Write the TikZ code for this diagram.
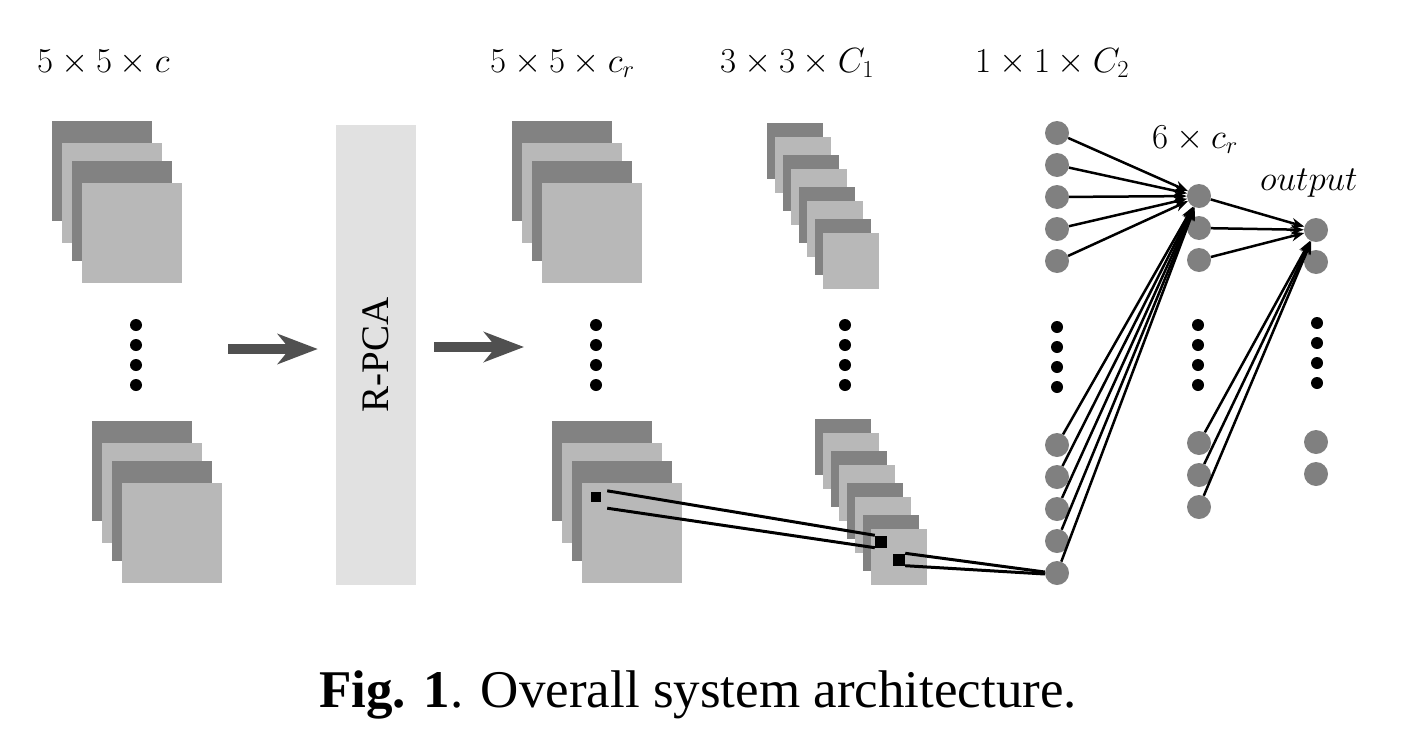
\RequirePackage{fix-cm}
\documentclass[tikz,border=0pt]{standalone}
\usepackage{fontspec}
\newfontfamily\timesfont{Liberation Serif}
\usetikzlibrary{arrows.meta,calc}

\definecolor{mapdark}{HTML}{828282}
\definecolor{maplight}{HTML}{B8B8B8}
\definecolor{unitgray}{HTML}{808080}
\definecolor{boxgray}{HTML}{E1E1E1}
\definecolor{arrowgray}{HTML}{505050}

\tikzset{
  unitnode/.style={circle, fill=unitgray, minimum size=24pt, inner sep=0pt},
  patchnode/.style={fill=black, minimum size=#1, inner sep=0pt},
  mapdim/.style={anchor=base west, inner sep=0pt, font=\fontsize{35}{42}\selectfont},
  conn/.style={-{Stealth[length=13pt,width=10pt]}, line width=2.5pt},
  patchline/.style={line width=3pt},
  bigarrow/.style={-{Stealth[length=40pt,width=30pt,inset=12pt]}, line width=10pt, arrowgray},
}

\begin{document}
\begin{tikzpicture}[x=1pt,y=-1pt]
\useasboundingbox (0,0) rectangle (1405,731);

% 5x5 maps
\foreach \x/\y in {52/121, 92/421, 512/121, 552/421}{
  \foreach \dx/\dy/\c in {0/0/mapdark, 10/22/maplight, 20/40/mapdark, 30/62/maplight}
    \fill[\c] (\x+\dx,\y+\dy) rectangle ++(100,100);
}
% 3x3 maps
\foreach \x/\y in {767/123, 815/419}{
  \foreach \dx/\dy/\c in {0/0/mapdark, 8/14/maplight, 16/32/mapdark, 24/46/maplight,
                          32/64/mapdark, 40/78/maplight, 48/96/mapdark, 56/110/maplight}
    \fill[\c] (\x+\dx,\y+\dy) rectangle ++(56,56);
}
% vertical dots
\foreach \x/\y in {136/325, 596/325, 845/325, 1057/327, 1198/325, 1317/323}{
  \foreach \k in {0,...,3}
    \fill (\x,\y+20*\k) circle (6);
}

% R-PCA
\node[fill=boxgray, minimum width=80pt, minimum height=460pt, inner sep=0pt] (rpca) at (376,355) {};
\node[rotate=90, inner sep=0pt, font=\timesfont\fontsize{39}{47}\selectfont] (rpcalabel) at (rpca.center) {R-PCA};
\coordinate (inA) at (228,349);
\coordinate (outB) at (524,347);
\draw[bigarrow, shorten >=18pt] (inA) -- (inA -| rpca.west);
\draw[bigarrow, shorten <=18pt] (rpca.east |- outB) -- (outB);

% sizes
\node[mapdim] (lblin) at (37,72) {$5\times5\times c$};
\node[mapdim] (lblred) at (490,72) {$5\times5\times c_r$};
\node[mapdim] (lblconv) at (720,72) {$3\times3\times C_1$};
\node[mapdim] (lblfc) at (975,72) {$1\times1\times C_2$};
\node[mapdim] (lblhid) at (1152,148) {$6\times c_r$};
\node[mapdim] (lblout) at (1260,190) {$output$};

% units
\foreach \y [count=\i] in {133,165,197,229,261,445,477,509,541,573}
  \node[unitnode] (a\i) at (1057,\y) {};
\foreach \y [count=\i] in {196,228,260,443,475,507}
  \node[unitnode] (b\i) at (1199,\y) {};
\foreach \y [count=\i] in {230,262,442,474}
  \node[unitnode] (c\i) at (1316,\y) {};
\foreach \i in {1,...,10}
  \draw[conn] (a\i) -- (b1);
\foreach \i in {1,...,6}
  \draw[conn] (b\i) -- (c1);

% patches
\node[patchnode=10pt] (p1) at (596,497) {};
\node[patchnode=12pt] (p2) at (881,541.5) {};
\node[patchnode=12pt] (p3) at (899,559.5) {};
\draw[patchline] ($(p1.north east)+(6,-1)$) -- (p2.north west);
\draw[patchline] ($(p1.south east)+(6,6)$) -- (p2.south west);
\draw[patchline] (p3.north east) -- ($(a10.west)+(0,-1)$);
\draw[patchline] (p3.south east) -- ($(a10.west)+(0,1)$);

% caption
\node[anchor=base, inner sep=0pt, font=\timesfont\fontsize{53}{64}\selectfont] (caption) at (698,707)
  {\textbf{Fig. 1}. Overall system architecture.};
\end{tikzpicture}
\end{document}
